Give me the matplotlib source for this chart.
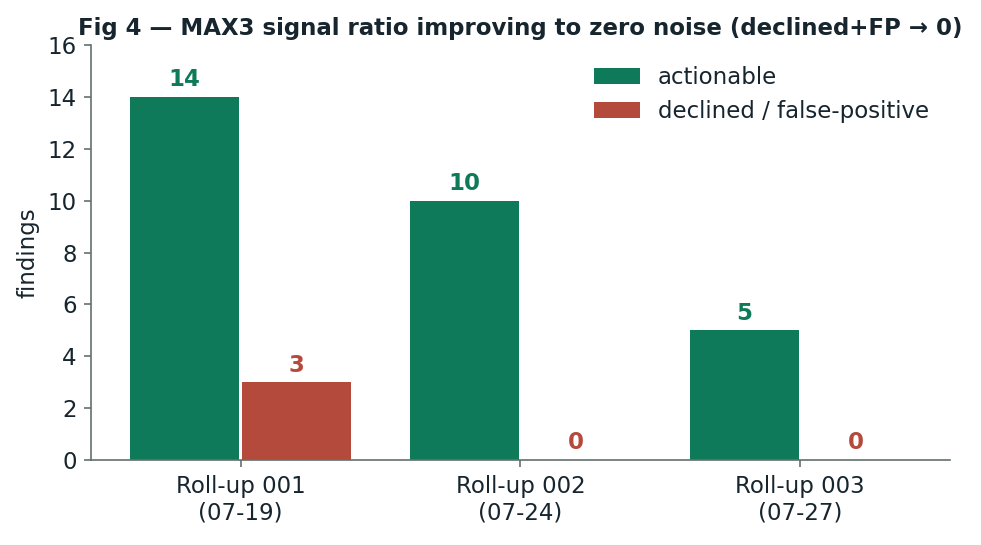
import matplotlib
matplotlib.use("Agg")
import matplotlib.pyplot as plt
import numpy as np

categories = ["Roll-up 001\n(07-19)", "Roll-up 002\n(07-24)", "Roll-up 003\n(07-27)"]
actionable = [14, 10, 5]
declined_fp = [3, 0, 0]
yticks = [0, 2, 4, 6, 8, 10, 12, 14, 16]

GREEN = "#0e7a5a"
RED = "#b44a3c"
TEXT = "#16252e"
SPINE = "#64706e"

plt.rcParams["font.family"] = ["DejaVu Sans"]
fig = plt.figure(figsize=(981/150, 545/150), dpi=150)
ax = fig.add_axes([0.093, 0.156, 0.875, 0.761])

x = np.arange(len(categories))
w = 0.39
ax.bar(x - 0.2, actionable, w, color=GREEN, label="actionable")
ax.bar(x + 0.2, declined_fp, w, color=RED, label="declined / false-positive")

for xi, v in zip(x, actionable):
    ax.text(xi - 0.2, v + 0.22, str(v), ha="center", va="bottom", fontsize=11,
            fontweight="bold", color=GREEN)
for xi, v in zip(x, declined_fp):
    ax.text(xi + 0.2, v + 0.22, str(v), ha="center", va="bottom", fontsize=11,
            fontweight="bold", color=RED)

ax.set_ylim(0, 16)
ax.set_yticks(yticks)
ax.set_xticks(x)
ax.set_xticklabels(categories)
ax.set_ylabel("findings", fontsize=11, color=TEXT)
ax.tick_params(axis="both", labelsize=11, colors=SPINE, labelcolor=TEXT)
for s in ["top", "right"]:
    ax.spines[s].set_visible(False)
for s in ["left", "bottom"]:
    ax.spines[s].set_color(SPINE)

ax.set_title("Fig 4 \u2014 MAX3 signal ratio improving to zero noise (declined+FP \u2192 0)",
             fontsize=11, fontweight="bold", color=TEXT, pad=5)
leg = ax.legend(loc="upper right", frameon=False, fontsize=11)
for t in leg.get_texts():
    t.set_color(TEXT)

fig.savefig("out.png", dpi=150)
